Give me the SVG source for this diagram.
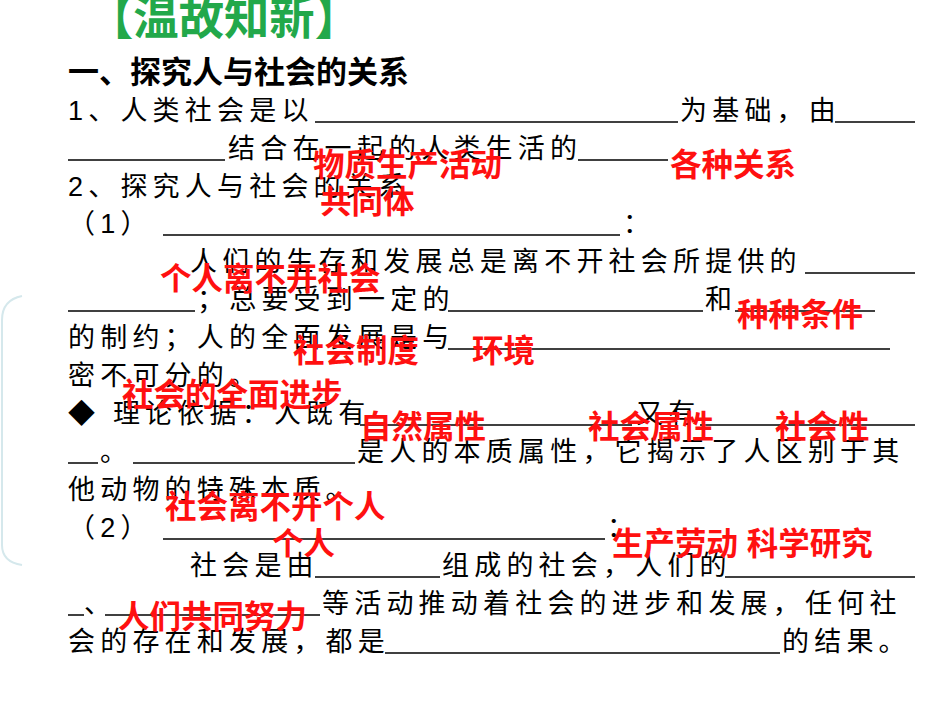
<svg xmlns="http://www.w3.org/2000/svg" width="950" height="713" viewBox="0 0 950 713">
<style>
.b{font-family:"Liberation Sans","Noto Sans CJK SC",sans-serif;font-size:27px;letter-spacing:5.2px;fill:#000}
.h{font-family:"Liberation Sans","Noto Sans CJK SC",sans-serif;font-size:31px;font-weight:bold;fill:#000}
.r{font-family:"Liberation Sans","Noto Sans CJK SC",sans-serif;font-size:31.5px;font-weight:bold;fill:#ff1010}
.u{stroke:#000;stroke-width:1.5}
</style>
<rect width="950" height="713" fill="#fff"/>
<path d="M22,296 Q2,300 2,320 L2,545 Q2,562 22,565" fill="none" stroke="#d5e8ec" stroke-width="2"/>
<g id="title"><text x="88" y="34" font-family="Liberation Sans,'Noto Sans CJK SC',sans-serif" font-size="46" font-weight="bold" fill="#22a84a" textLength="272" lengthAdjust="spacingAndGlyphs">【温故知新】</text></g>
<g id="body">
<text class="h" x="68" y="83">一、探究人与社会的关系</text>
<text class="b" x="68" y="120">1、人类社会是以</text>
<text class="b" x="680" y="120">为基础，由</text>
<text class="b" x="228" y="158">结合在一起的人类生活的</text>
<text class="b" x="68" y="196">2、探究人与社会的关系</text>
<text class="b" x="68" y="233">（1）</text>
<text class="b" x="623" y="233">：</text>
<text class="b" x="190" y="271">人们的生存和发展总是离不开社会所提供的</text>
<text class="b" x="197" y="309">；总要受到一定的</text>
<text class="b" x="705" y="309">和</text>
<text class="b" x="68" y="347">的制约；人的全面发展是与</text>
<text class="b" x="68" y="385">密不可分的。</text>
<text class="b" x="68" y="423">◆ 理论依据：人既有</text>
<text class="b" x="636" y="423">又有</text>
<text class="b" x="100" y="461">。</text>
<text class="b" x="357" y="461">是人的本质属性，它揭示了人区别于其</text>
<text class="b" x="68" y="499">他动物的特殊本质。</text>
<text class="b" x="68" y="537">（2）</text>
<text class="b" x="607" y="537">：</text>
<text class="b" x="190" y="575">社会是由</text>
<text class="b" x="442" y="575">组成的社会，人们的</text>
<text class="b" x="84" y="613">、</text>
<text class="b" x="322" y="613">等活动推动着社会的进步和发展，任何社</text>
<text class="b" x="68" y="651">会的存在和发展，都是</text>
<text class="b" x="782" y="651">的结果。</text>
</g>
<g id="blanks" class="u">
<line x1="315" y1="122" x2="678" y2="122"/><line x1="835" y1="122" x2="915" y2="122"/>
<line x1="68" y1="160" x2="225" y2="160"/><line x1="578" y1="160" x2="668" y2="160"/>
<line x1="163" y1="235" x2="620" y2="235"/>
<line x1="805" y1="273" x2="915" y2="273"/>
<line x1="68" y1="311" x2="195" y2="311"/><line x1="448" y1="311" x2="703" y2="311"/><line x1="735" y1="311" x2="875" y2="311"/>
<line x1="448" y1="349" x2="890" y2="349"/>
<line x1="360" y1="425" x2="632" y2="425"/><line x1="700" y1="425" x2="915" y2="425"/>
<line x1="68" y1="463" x2="98" y2="463"/><line x1="133" y1="463" x2="355" y2="463"/>
<line x1="163" y1="539" x2="605" y2="539"/>
<line x1="315" y1="577" x2="440" y2="577"/><line x1="725" y1="577" x2="915" y2="577"/>
<line x1="68" y1="615" x2="84" y2="615"/><line x1="105" y1="615" x2="320" y2="615"/>
<line x1="385" y1="653" x2="780" y2="653"/>
</g>
<g id="answers">
<text class="r" x="313" y="176">物质生产活动</text>
<text class="r" x="670" y="176">各种关系</text>
<text class="r" x="320" y="213">共同体</text>
<text class="r" x="160" y="290">个人离不开社会</text>
<text class="r" x="737" y="326">种种条件</text>
<text class="r" x="293" y="362">社会制度</text>
<text class="r" x="472" y="362">环境</text>
<text class="r" x="122" y="406">社会的全面进步</text>
<text class="r" x="360" y="438">自然属性</text>
<text class="r" x="588" y="438">社会属性</text>
<text class="r" x="775" y="438">社会性</text>
<text class="r" x="165" y="518">社会离不开个人</text>
<text class="r" x="272" y="555">个人</text>
<text class="r" x="612" y="555">生产劳动 科学研究</text>
<text class="r" x="118" y="628">人们共同努力</text>
</g>
</svg>
